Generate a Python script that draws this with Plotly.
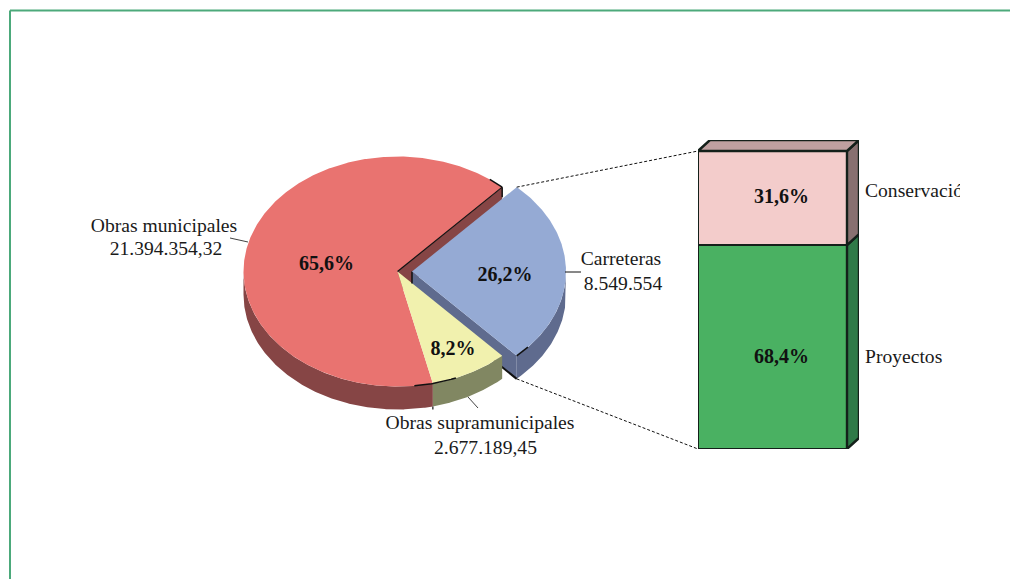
import math
import plotly.graph_objects as go

# ---- data ----
pie_names = ["Carreteras", "Obras supramunicipales", "Obras municipales"]
pie_values = [8549554, 2677189.45, 21394354.32]
pie_amount_labels = ["8.549.554", "2.677.189,45", "21.394.354,32"]
pie_pct_labels = ["26,2%", "8,2%", "65,6%"]
bar_names = ["Proyectos", "Conservación"]
bar_values = [68.4, 31.6]
bar_pct_labels = ["68,4%", "31,6%"]

# ---- style ----
FONT = "Liberation Serif"
TXT = "#1a1a1a"
TXT_BOLD = "#111111"
FS = 19.6
FS_BOLD = 20
TOP = {"Carreteras": "#95AAD4", "Obras supramunicipales": "#F1F1AE", "Obras municipales": "#E97370"}
SIDE = {"Carreteras": "#5F6B8E", "Obras supramunicipales": "#818762", "Obras municipales": "#864545"}
BAR_FRONT = {"Proyectos": "#4AB162", "Conservación": "#F3CCCB"}
BAR_SIDE = {"Proyectos": "#2F7A48", "Conservación": "#887070"}
BAR_TOP = "#BFA0A0"
FRAME = "#4CA97B"

# pie geometry in axis units (axis is 1:1 with the canvas)
CX, CY, RX, RY, DEPTH = 397.5, 271.5, 154, 115, 23
EXPLODE = {"Carreteras": 14.5, "Obras supramunicipales": 0, "Obras municipales": 0}

total = sum(pie_values)
spans = {n: v / total * 360 for n, v in zip(pie_names, pie_values)}
blue_half = spans["Carreteras"] / 2
ang = {}
a = blue_half
for n in pie_names:
    ang[n] = (a, a - spans[n])
    a -= spans[n]


def pt(name, deg, drop=0):
    r = math.radians(deg)
    return (CX + EXPLODE[name] + RX * math.cos(r), CY - RY * math.sin(r) + drop)


def arc(name, a0, a1, drop=0):
    n = max(2, int(abs(a1 - a0) * 2))
    return [pt(name, a0 + (a1 - a0) * i / n, drop) for i in range(n + 1)]


fig = go.Figure()


def poly(points, color, xa="x", ya="y", line=None):
    xs = [p[0] for p in points] + [points[0][0]]
    ys = [p[1] for p in points] + [points[0][1]]
    fig.add_trace(go.Scatter(x=xs, y=ys, mode="lines", fill="toself", fillcolor=color,
                             line=line or dict(width=0, color=color), hoverinfo="skip",
                             showlegend=False, xaxis=xa, yaxis=ya, cliponaxis=False))


def stroke(points, width=1, dash=None, color="#111111", xa="x", ya="y"):
    fig.add_trace(go.Scatter(x=[p[0] for p in points], y=[p[1] for p in points], mode="lines",
                             line=dict(width=width, color=color, dash=dash), hoverinfo="skip",
                             showlegend=False, xaxis=xa, yaxis=ya, cliponaxis=False))


def label(x, y, s, pos="middle center", bold=False, xa="x", ya="y"):
    fig.add_trace(go.Scatter(x=[x], y=[y], mode="text", text=[s], textposition=pos,
                             textfont=dict(family=FONT, size=FS_BOLD if bold else FS,
                                           color=TXT_BOLD if bold else TXT,
                                           weight="bold" if bold else "normal"),
                             hoverinfo="skip", showlegend=False, xaxis=xa, yaxis=ya))


BL, YE, RE = pie_names
apex = lambda n, drop=0: (CX + EXPLODE[n], CY + drop)

# red slice runs clockwise from the yellow slice round to the blue one
re_low, re_cut = ang[RE]
ye_start, ye_end = ang[YE]
bl_start, bl_end = ang[BL]

# red cut face (next to the blue slice)
poly([apex(RE), pt(RE, re_cut), pt(RE, re_cut, DEPTH), apex(RE, DEPTH)], SIDE[RE])

# blue outer wall and blue cut face
poly(arc(BL, bl_end, 0) + arc(BL, 0, bl_end, DEPTH), SIDE[BL])
poly([apex(BL), pt(BL, bl_end), pt(BL, bl_end, DEPTH), apex(BL, DEPTH)], SIDE[BL])
stroke([apex(BL, DEPTH), pt(BL, bl_end, DEPTH)], 2)

# red wall, yellow wall
poly(arc(RE, re_low, -180) + arc(RE, -180, re_low, DEPTH), SIDE[RE])
poly(arc(YE, ye_start, ye_end) + arc(YE, ye_end, ye_start, DEPTH), SIDE[YE])

# tops
poly([apex(RE)] + arc(RE, re_low, re_cut), TOP[RE])
poly([apex(YE)] + arc(YE, ye_start, ye_end), TOP[YE])
stroke([apex(BL), apex(BL, 12)], 1.5)
poly([apex(BL)] + arc(BL, bl_start, bl_end), TOP[BL])

# black edge accents
stroke([apex(RE), pt(RE, re_cut)], 1.2)
stroke([pt(RE, re_cut), pt(RE, re_cut, 10)], 1.5)
stroke(arc(RE, re_cut, re_cut + 6), 1.5)
stroke(arc(YE, ye_end - 7, ye_end + 9), 1.5)
stroke(arc(BL, bl_end, bl_end + 6), 1.5)
stroke([pt(YE, ye_end, DEPTH), pt(YE, ye_end, DEPTH + 3)], 1.2)

# leader lines
stroke([(230, 238), (248, 242)], 0.8)
stroke([(565, 272), (581, 272)], 1)
stroke([(468, 397), (478, 408)], 0.8)

# connector lines to the bar
BAR_L, BAR_R, BAR_TOP_PX, BAR_BOT_PX = 698, 847, 151, 449
stroke([pt(BL, bl_start), (BAR_L, BAR_TOP_PX)], 1, "3px,2px")
stroke([pt(BL, bl_end, DEPTH), (BAR_L, BAR_BOT_PX)], 1, "3px,2px")

# pie texts
label(164, 227, pie_names[2])
label(166, 250, pie_amount_labels[2])
label(621, 260, pie_names[0])
label(623, 285, pie_amount_labels[0])
label(480, 424, pie_names[1])
label(485.5, 449, pie_amount_labels[1])
label(326.5, 265, pie_pct_labels[2], bold=True)
label(505, 276, pie_pct_labels[0], bold=True)
label(453, 350, pie_pct_labels[1], bold=True)
label(865, 192, bar_names[1], "middle right")
label(865, 358, bar_names[0], "middle right")

# ---- stacked bar on its own axes ----
DX_PX, DY_PX = 12, 11
x_unit = 1 / (BAR_R - BAR_L)
y_unit = 100 / (BAR_BOT_PX - BAR_TOP_PX)
dx, dy = DX_PX * x_unit, DY_PX * y_unit
BLACK_LINE = dict(width=2.4, color="#14201a")

base = 0
for n, v in zip(bar_names, bar_values):
    fig.add_trace(go.Bar(x=[0.5], y=[v], width=[1], name=n, marker=dict(color=BAR_FRONT[n], line=BLACK_LINE),
                         hoverinfo="skip", showlegend=False, xaxis="x2", yaxis="y2", cliponaxis=False))
    poly([(1, base), (1 + dx, base + dy), (1 + dx, base + v + dy), (1, base + v)], BAR_SIDE[n], "x2", "y2", BLACK_LINE)
    base += v
poly([(0, base), (dx, base + dy), (1 + dx, base + dy), (1, base)], BAR_TOP, "x2", "y2", BLACK_LINE)

# the label of the lower segment sits below its middle in the reference
label_shift = [-3.7, 0.0]
base = 0
for v, p, s in zip(bar_values, bar_pct_labels, label_shift):
    label(0.56, base + v / 2 + s, p, bold=True, xa="x2", ya="y2")
    base += v

W, H = 1010, 579
fig.update_layout(
    width=W, height=H, autosize=False, margin=dict(l=0, r=0, t=0, b=0),
    paper_bgcolor="white", plot_bgcolor="rgba(0,0,0,0)", barmode="stack", showlegend=False,
    xaxis=dict(domain=[0, 960 / W], range=[0, 960], visible=False, fixedrange=True),
    yaxis=dict(domain=[0, 1], range=[H, 0], visible=False, fixedrange=True),
    xaxis2=dict(domain=[BAR_L / W, (BAR_R + DX_PX) / W], range=[0, 1 + dx], visible=False, anchor="y2", fixedrange=True),
    yaxis2=dict(domain=[(H - BAR_BOT_PX) / H, (H - BAR_TOP_PX + DY_PX) / H], range=[0, 100 + dy], visible=False,
                anchor="x2", fixedrange=True),
    shapes=[
        dict(type="line", xref="paper", yref="paper", x0=10 / W, x1=1, y0=1 - 10.5 / H, y1=1 - 10.5 / H,
             line=dict(color=FRAME, width=2)),
        dict(type="line", xref="paper", yref="paper", x0=10 / W, x1=10 / W, y0=0, y1=1 - 10.5 / H,
             line=dict(color=FRAME, width=2)),
    ],
)

fig.write_html("out.html", config={"displayModeBar": False},
               post_script="document.body.style.margin='0';document.body.style.overflow='hidden';")
